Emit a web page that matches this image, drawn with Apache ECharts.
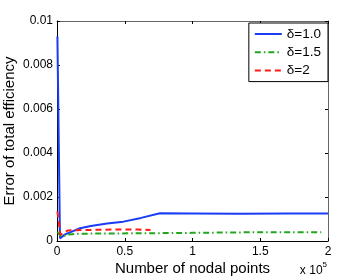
<!DOCTYPE html>
<html>
<head>
<meta charset="utf-8">
<script src="https://cdn.jsdelivr.net/npm/echarts@6/dist/echarts.min.js"></script>
<style>
html,body{margin:0;padding:0;background:#fff;}
#c{width:364px;height:278px;}
</style>
</head>
<body>
<div id="c"></div>
<script>
// Data
var seriesNames = ['\u03b4=1.0', '\u03b4=1.5', '\u03b4=2'];

var blueX = [300, 2200, 6000, 10000, 17000, 25000, 37000, 49000, 62000, 76000, 100000, 135000, 170000, 200000];
var blueY = [0.0093, 0.00012, 0.0003, 0.0004, 0.00058, 0.00068, 0.0008, 0.00088, 0.00105, 0.00126, 0.00125, 0.00124, 0.00125, 0.00125];

var greenX = [300, 3000, 9000, 15000, 30000, 60000, 100000, 150000, 195000];
var greenY = [0.00042, 0.0002, 0.0003, 0.00033, 0.00034, 0.00035, 0.00037, 0.0004, 0.0004];

var redX = [300, 2500, 8000, 20000, 40000, 60000, 69000];
var redY = [0.00135, 0.00028, 0.00048, 0.0005, 0.00052, 0.00052, 0.0005];

var xTicks = [0, 50000, 100000, 150000, 200000];
var yTicks = [0, 0.002, 0.004, 0.006, 0.008, 0.01];

function zip(xs, ys) {
  var out = [];
  for (var i = 0; i < xs.length; i++) out.push([xs[i], ys[i]]);
  return out;
}

var FONT = 'Liberation Sans, Arial, sans-serif';
var chart = echarts.init(document.getElementById('c'), null, {renderer: 'canvas'});

var baseX = {
  type: 'value', min: xTicks[0], max: xTicks[xTicks.length - 1], interval: xTicks[1] - xTicks[0],
  splitLine: {show: false},
  axisTick: {show: true, inside: true, length: 3, lineStyle: {color: '#000'}},
};
var baseY = {
  type: 'value', min: yTicks[0], max: yTicks[yTicks.length - 1], interval: yTicks[1] - yTicks[0],
  splitLine: {show: false},
  axisTick: {show: true, inside: true, length: 3, lineStyle: {color: '#000'}},
};

chart.setOption({
  animation: false,
  backgroundColor: '#fff',
  textStyle: {fontFamily: FONT},
  grid: {left: 57, right: 36, top: 21, bottom: 37, containLabel: false, outerBoundsMode: 'none'},
  xAxis: [
    Object.assign({}, baseX, {
      position: 'bottom',
      axisLine: {show: true, onZero: false, lineStyle: {color: '#000', width: 1}},
      axisLabel: {show: true, color: '#000', fontSize: 12, fontFamily: FONT, margin: 5,
        formatter: function (v) { return String(v / 100000); }},
      name: 'Number of nodal points', nameLocation: 'middle', nameGap: 20, nameMoveOverlap: false,
      nameTextStyle: {color: '#000', fontSize: 15, fontFamily: FONT}
    }),
    Object.assign({}, baseX, {
      position: 'top',
      axisLine: {show: true, onZero: false, lineStyle: {color: '#666', width: 1}},
      axisLabel: {show: false}
    })
  ],
  yAxis: [
    Object.assign({}, baseY, {
      position: 'left',
      axisLine: {show: true, onZero: false, lineStyle: {color: '#000', width: 1}},
      axisLabel: {show: true, color: '#000', fontSize: 12, fontFamily: FONT, margin: 4,
        formatter: function (v) { return v === 0 ? '0' : String(+v.toFixed(3)); }},
      name: 'Error of total efficiency', nameLocation: 'middle', nameGap: 40, nameRotate: 90,
      nameMoveOverlap: false,
      nameTextStyle: {color: '#000', fontSize: 15, fontFamily: FONT}
    }),
    Object.assign({}, baseY, {
      position: 'right',
      axisLine: {show: true, onZero: false, lineStyle: {color: '#666', width: 1}},
      axisLabel: {show: false}
    })
  ],
  legend: {
    orient: 'vertical', right: 36, top: 23,
    backgroundColor: '#fff', borderColor: '#000', borderWidth: 1,
    padding: [4, 7, 4, 5], itemGap: 4.3, itemWidth: 27, itemHeight: 14, itemTextGap: 2,
    textStyle: {color: '#000', fontSize: 13.5, fontFamily: FONT},
    itemStyle: {opacity: 0},
    data: seriesNames
  },
  series: [
    {name: seriesNames[0], type: 'line', data: zip(blueX, blueY), showSymbol: false, symbol: 'none',
      lineStyle: {color: '#1a3cf5', width: 2}, itemStyle: {color: '#1a3cf5'}},
    {name: seriesNames[1], type: 'line', data: zip(greenX, greenY), showSymbol: false, symbol: 'none',
      lineStyle: {color: '#22a61e', width: 2, type: [6, 3, 1.5, 3]}, itemStyle: {color: '#22a61e'}},
    {name: seriesNames[2], type: 'line', data: zip(redX, redY), showSymbol: false, symbol: 'none',
      lineStyle: {color: '#ff1a1a', width: 2, type: [6, 4]}, itemStyle: {color: '#ff1a1a'}}
  ],
  graphic: [{
    type: 'text', right: 37, top: 261,
    style: {
      text: '{a|x 10}{b|5}', fill: '#000',
      rich: {
        a: {fontSize: 12, fontFamily: FONT, fill: '#000', verticalAlign: 'bottom', lineHeight: 16},
        b: {fontSize: 8, fontFamily: FONT, fill: '#000', verticalAlign: 'top', lineHeight: 16, padding: [0, 0, 8, 0]}
      }
    }
  }]
});
</script>
</body>
</html>
